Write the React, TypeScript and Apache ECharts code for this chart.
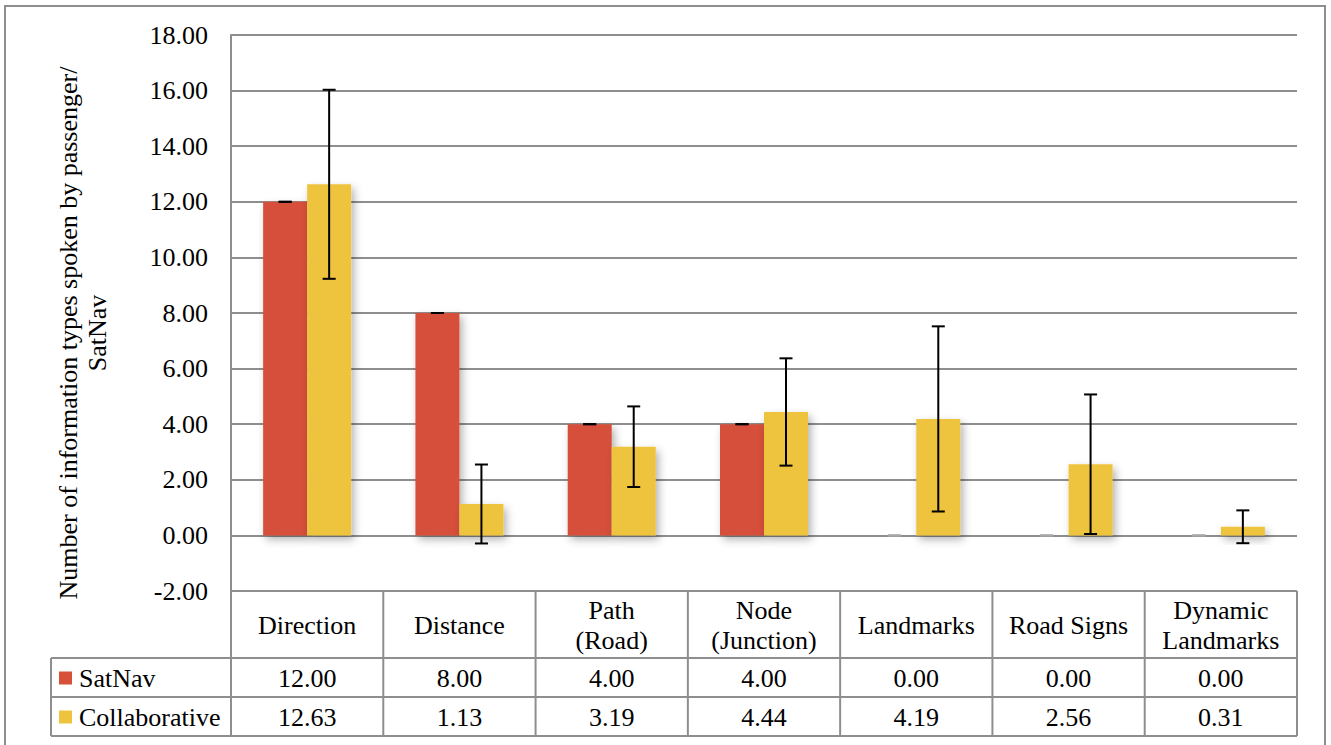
import React, { useEffect, useRef } from "react";
import * as echarts from "echarts";

const categories = ["Direction", "Distance", "Path\n(Road)", "Node\n(Junction)", "Landmarks", "Road Signs", "Dynamic\nLandmarks"];
const seriesNames = ["SatNav", "Collaborative"];
const satnavValues = [12.0, 8.0, 4.0, 4.0, 0.0, 0.0, 0.0];
const collabValues = [12.63, 1.13, 3.19, 4.44, 4.19, 2.56, 0.31];
const satnavErrors = [0, 0, 0, 0, 0, 0, 0];
const collabErrors = [3.4, 1.42, 1.45, 1.93, 3.33, 2.51, 0.59];
const yMin = -2;
const yMax = 18;
const yInterval = 2;

const COLORS = ["#D6503A", "#EEC33D"];
const FONT = "Liberation Serif";
const GRAY = "#8e8e8e";
const FS = 26;

const W = 1331;
const H = 745;
const GRID_LEFT = 231;
const GRID_RIGHT = 1297;
const GRID_TOP = 35;
const GRID_BOTTOM = 591;
const BAR_W = 44;
const ROW1 = 658;
const ROW2 = 697;
const ROW3 = 736;
const LEG_LEFT = 51;

function errorSeries(values: number[], errs: number[], offset: number) {
  return {
    type: "custom",
    silent: true,
    z: 10,
    data: values.map((v, i) => [i, v - errs[i], v + errs[i], v]),
    renderItem: (params: any, api: any) => {
      const idx = api.value(0);
      const lo = api.value(1);
      const hi = api.value(2);
      const v = api.value(3);
      const x = api.coord([idx, 0])[0] + offset;
      const yLo = api.coord([idx, lo])[1];
      const yHi = api.coord([idx, hi])[1];
      const color = v === 0 ? "#a8a8a8" : "#000";
      const cap = 6.5;
      return {
        type: "group",
        children: [
          { type: "line", shape: { x1: x, y1: yLo, x2: x, y2: yHi }, style: { stroke: color, lineWidth: 2 } },
          { type: "line", shape: { x1: x - cap, y1: yHi, x2: x + cap, y2: yHi }, style: { stroke: color, lineWidth: 2 } },
          { type: "line", shape: { x1: x - cap, y1: yLo, x2: x + cap, y2: yLo }, style: { stroke: color, lineWidth: 2 } },
        ],
      };
    },
  };
}

export default function App() {
  const ref = useRef<HTMLDivElement>(null);
  useEffect(() => {
    if (!ref.current) return;
    const chart = echarts.init(ref.current, null, { renderer: "svg" });
    const n = categories.length;
    const colW = (GRID_RIGHT - GRID_LEFT) / n;
    const graphics: any[] = [];
    const line = (x1: number, y1: number, x2: number, y2: number) =>
      graphics.push({ type: "line", silent: true, shape: { x1, y1, x2, y2 }, style: { stroke: GRAY, lineWidth: 2 }, z: 5 });
    const txt = (text: string, x: number, y: number, align: string, extra: any = {}) =>
      graphics.push({
        type: "text",
        silent: true,
        x,
        y,
        ...extra,
        style: { text, fontFamily: FONT, fontSize: FS, fill: "#000", align, verticalAlign: "middle", lineHeight: 30 },
      });

    // outer frame
    graphics.push({ type: "rect", shape: { x: 5, y: 6, width: 1320, height: 780 }, style: { fill: "none", stroke: GRAY, lineWidth: 2 }, silent: true });

    // table lines
    line(GRID_LEFT, GRID_TOP, GRID_LEFT, ROW3);
    [ROW1, ROW2, ROW3].forEach((y) => line(LEG_LEFT, y, GRID_RIGHT, y));
    line(LEG_LEFT, ROW1, LEG_LEFT, ROW3);
    for (let i = 1; i <= n; i++) {
      const x = GRID_LEFT + i * colW;
      line(x, GRID_BOTTOM, x, ROW3);
    }
    // header texts
    categories.forEach((c, i) => txt(c, GRID_LEFT + (i + 0.5) * colW, (GRID_BOTTOM + ROW1) / 2 + 1, "center"));
    const rows = [satnavValues, collabValues];
    const rowTops = [ROW1, ROW2];
    rows.forEach((vals, r) => {
      const cy = rowTops[r] + (ROW2 - ROW1) / 2 + 1;
      graphics.push({ type: "rect", silent: true, shape: { x: 59, y: cy - 7, width: 13, height: 13 }, style: { fill: COLORS[r] } });
      txt(seriesNames[r], 79, cy, "left");
      vals.forEach((v, i) => txt(v.toFixed(2), GRID_LEFT + (i + 0.5) * colW, cy, "center"));
    });
    // y axis title
    txt("Number of information types spoken by passenger/", 68, 333, "center", { rotation: Math.PI / 2 });
    txt("SatNav", 97, 333, "center", { rotation: Math.PI / 2 });

    const shadow = { shadowBlur: 8, shadowColor: "rgba(0,0,0,0.3)", shadowOffsetX: 3, shadowOffsetY: 4 };

    chart.setOption({
      animation: false,
      backgroundColor: "#fff",
      grid: { left: GRID_LEFT, right: W - GRID_RIGHT, top: GRID_TOP, bottom: H - GRID_BOTTOM, containLabel: false },
      xAxis: {
        type: "category",
        data: categories,
        axisLine: { show: false },
        axisTick: { show: false },
        axisLabel: { show: false },
        splitLine: { show: false },
      },
      yAxis: {
        type: "value",
        min: yMin,
        max: yMax,
        interval: yInterval,
        axisLine: { show: true, lineStyle: { color: GRAY, width: 2 } },
        axisTick: { show: false },
        axisLabel: { formatter: (v: number) => v.toFixed(2), fontFamily: FONT, fontSize: FS, color: "#000", margin: 23 },
        splitLine: { show: true, lineStyle: { color: GRAY, width: 2 } },
      },
      graphic: graphics,
      series: [
        { name: seriesNames[0], type: "bar", data: satnavValues, barWidth: BAR_W, barGap: "0%", itemStyle: { color: COLORS[0], ...shadow }, z: 3 },
        { name: seriesNames[1], type: "bar", data: collabValues, barWidth: BAR_W, barGap: "0%", itemStyle: { color: COLORS[1], ...shadow }, z: 3 },
        errorSeries(satnavValues, satnavErrors, -BAR_W / 2),
        errorSeries(collabValues, collabErrors, BAR_W / 2),
      ],
    });
    return () => chart.dispose();
  }, []);
  return <div ref={ref} style={{ position: "fixed", left: 0, top: 0, width: W, height: H, background: "#fff" }} />;
}
